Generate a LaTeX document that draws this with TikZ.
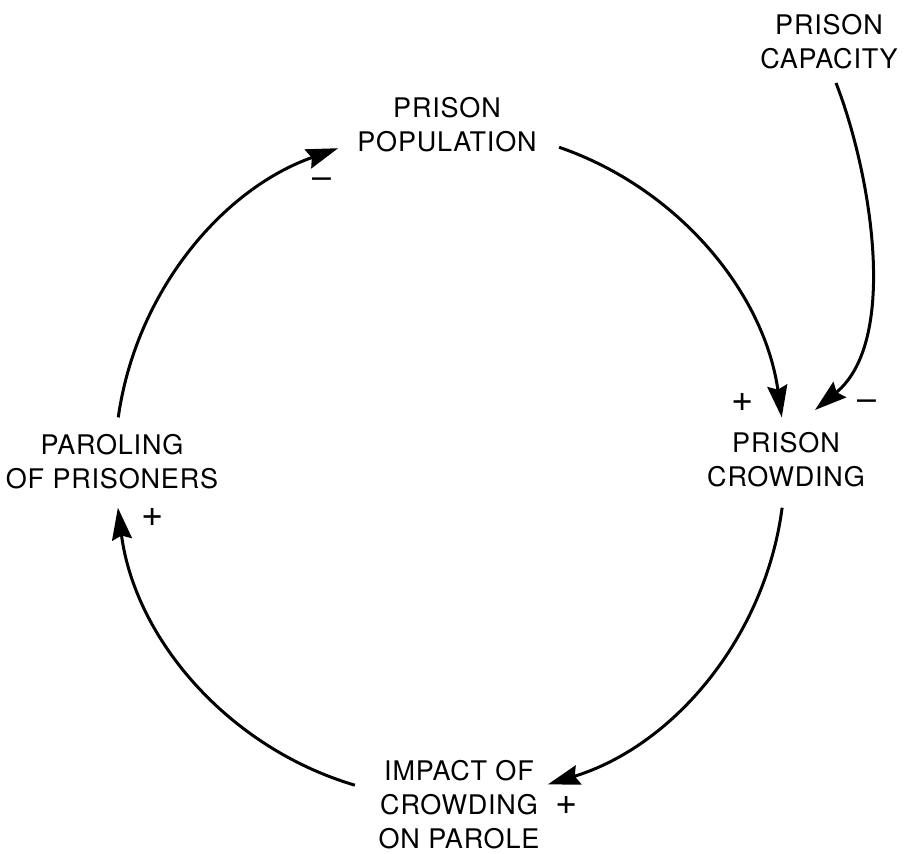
\documentclass[tikz,border=0pt]{standalone}
\usepackage{fontspec}
\setmainfont[LetterSpace=3]{TeX Gyre Heros}
\usetikzlibrary{arrows.meta}
\begin{document}
\begin{tikzpicture}[x=1pt,y=1pt,
  label/.style={font=\fontsize{27}{34}\selectfont, align=center, inner sep=0pt},
  plus/.style={font=\fontsize{38}{38}\selectfont, inner sep=0pt},
  minus/.style={font=\fontsize{34}{34}\selectfont, inner sep=0pt},
  link/.style={line width=3pt, -{Stealth[length=32pt,width=20pt,inset=4pt]}}]
\useasboundingbox (0,0) rectangle (909,853);

% variables
\node[label] (pop)    at (447,728) {PRISON\\POPULATION};
\node[label] (cap)    at (829,811) {PRISON\\CAPACITY};
\node[label] (crowd)  at (786,393) {PRISON\\CROWDING};
\node[label] (parol)  at (112,391) {PAROLING\\OF PRISONERS};
\node[label] (impact) at (459,48)  {IMPACT OF\\CROWDING\\ON PAROLE};

% the loop runs on one circle
\coordinate (C) at (450,389);
\path (C) ++(172:335)    coordinate (parol-out);
\path (C) ++(109.5:335)  coordinate (pop-in);
\path (C) ++(71:335)     coordinate (pop-out);
\path (C) ++(8:335)      coordinate (crowd-in);
\path (C) ++(-7.5:335)   coordinate (crowd-out);
\path (C) ++(-73:335)    coordinate (impact-in);
\path (C) ++(-106.5:335) coordinate (impact-out);
\path (C) ++(-172.5:335) coordinate (parol-in);

\draw[link] (parol-out)  arc[start angle=172,    end angle=109.5,  radius=335];
\draw[link] (pop-out)    arc[start angle=71,     end angle=8,      radius=335];
\draw[link] (crowd-out)  arc[start angle=-7.5,   end angle=-73,    radius=335];
\draw[link] (impact-out) arc[start angle=-106.5, end angle=-172.5, radius=335];

% capacity feeds crowding
\coordinate (cap-out) at (836,770);
\coordinate (crowd-in2) at (815,443);
\draw[link] (cap-out) .. controls (870,683) and (900,513) .. (crowd-in2);

% polarities
\node[minus] (s1) at (322,670) {–};
\node[plus]  (s2) at (743,450) {+};
\node[minus] (s3) at (867,448) {–};
\node[plus]  (s4) at (153,336) {+};
\node[plus]  (s5) at (567,48)  {+};
\end{tikzpicture}
\end{document}
